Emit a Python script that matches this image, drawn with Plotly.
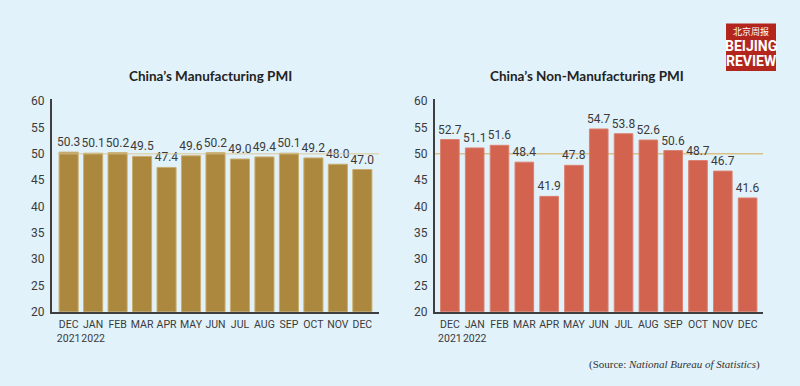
import plotly.graph_objects as go

months = ["DEC<br>2021", "JAN<br>2022", "FEB", "MAR", "APR", "MAY", "JUN",
          "JUL", "AUG", "SEP", "OCT", "NOV", "DEC"]
manufacturing = [50.3, 50.1, 50.2, 49.5, 47.4, 49.6, 50.2, 49.0, 49.4, 50.1, 49.2, 48.0, 47.0]
non_manufacturing = [52.7, 51.1, 51.6, 48.4, 41.9, 47.8, 54.7, 53.8, 52.6, 50.6, 48.7, 46.7, 41.6]
y_ticks = [20, 25, 30, 35, 40, 45, 50, 55, 60]
threshold = 50

W, H = 800, 386
BG = "#e2f2fa"
TXT = "#3a3a3a"
FONT = "Lato, Open Sans, sans-serif"
NARROW = "Roboto, Lato, sans-serif"
xpos = list(range(len(months)))


def px(x):
    return x / W


def py(y):
    return (H - y) / H


fig = go.Figure()
fig.add_trace(go.Bar(
    x=xpos, y=manufacturing, xaxis="x", yaxis="y",
    marker=dict(color="#ab883e", line=dict(color="#c9ad70", width=1)),
    text=[f"{v:.1f}" for v in manufacturing], textposition="outside", constraintext="none",
    textfont=dict(size=12, color=TXT, family=NARROW), cliponaxis=False,
    width=0.78, showlegend=False))
fig.add_trace(go.Bar(
    x=xpos, y=non_manufacturing, xaxis="x2", yaxis="y2",
    marker=dict(color="#d1634f", line=dict(color="#dc8070", width=1)),
    text=[f"{v:.1f}" for v in non_manufacturing], textposition="outside", constraintext="none",
    textfont=dict(size=12, color=TXT, family=NARROW), cliponaxis=False,
    width=0.75, showlegend=False))

ydom = [py(316.5), py(97)]
axis_common = dict(showgrid=False, zeroline=False, showline=True, linecolor="#3f3f3f",
                   linewidth=2, tickfont=dict(size=12, color=TXT, family=NARROW), ticks="")
fig.update_layout(
    width=W, height=H, margin=dict(l=0, r=0, t=0, b=0),
    paper_bgcolor=BG, plot_bgcolor=BG,
    xaxis=dict(domain=[px(52), px(379)], range=[-0.68, 12.68], tickvals=xpos, ticktext=months,
               **axis_common),
    yaxis=dict(domain=ydom, range=[20, 60.4], tickvals=y_ticks, anchor="x", **axis_common),
    xaxis2=dict(domain=[px(435), px(763)], range=[-0.6, 12.62], tickvals=xpos, ticktext=months,
                anchor="y2", **axis_common),
    yaxis2=dict(domain=ydom, range=[20, 60.4], tickvals=y_ticks, anchor="x2", **axis_common),
    bargap=0.22,
)
fig.update_xaxes(tickfont=dict(size=10.5, family=NARROW), tickangle=0, ticklabelstandoff=2)
fig.update_yaxes(ticklabelstandoff=3)

fig.add_shape(type="line", xref="x", yref="y", x0=-0.45, x1=12.68, y0=threshold, y1=threshold,
              line=dict(color="#dcc48f", width=1.5), layer="above", opacity=0.6)
fig.add_shape(type="line", xref="x2 domain", yref="y2", x0=0, x1=1, y0=threshold, y1=threshold,
              line=dict(color="#d9bf88", width=1.5), layer="below")

fig.add_annotation(text="<b>China’s Manufacturing PMI</b>", x=px(210), y=py(73), xref="paper",
                   yref="paper", xanchor="center", yanchor="middle", showarrow=False,
                   font=dict(size=13.5, color="#222", family=FONT))
fig.add_annotation(text="<b>China’s Non-Manufacturing PMI</b>", x=px(587), y=py(73), xref="paper",
                   yref="paper", xanchor="center", yanchor="middle", showarrow=False,
                   font=dict(size=13.5, color="#222", family=FONT))

fig.add_annotation(text="(Source: <i>National Bureau of Statistics</i>)", x=px(762),
                   y=py(371), xref="paper", yref="paper", xanchor="right", yanchor="middle",
                   showarrow=False, font=dict(size=11, color="#333", family="Liberation Serif, serif"))

# logo
fig.add_shape(type="rect", xref="paper", yref="paper", x0=px(726), x1=px(776),
              y0=py(68), y1=py(19), fillcolor="#b3261e", line=dict(width=0))
fig.add_annotation(text="北京周报", x=px(751), y=py(27), xref="paper", yref="paper",
                   xanchor="center", yanchor="middle", showarrow=False,
                   font=dict(size=9, color="white", family="Noto Sans CJK SC"))
fig.add_annotation(text="<b>BEIJING</b>", x=px(751), y=py(42), xref="paper",
                   yref="paper", xanchor="center", yanchor="middle", showarrow=False,
                   font=dict(size=14, color="white", family="Liberation Sans Narrow, Roboto"))
fig.add_annotation(text="<b>REVIEW</b>", x=px(751), y=py(58), xref="paper",
                   yref="paper", xanchor="center", yanchor="middle", showarrow=False,
                   font=dict(size=14, color="white", family="Liberation Sans Narrow, Roboto"))

fig.write_html("out.html", config={"displayModeBar": False},
               post_script="document.body.style.margin='0px';")
